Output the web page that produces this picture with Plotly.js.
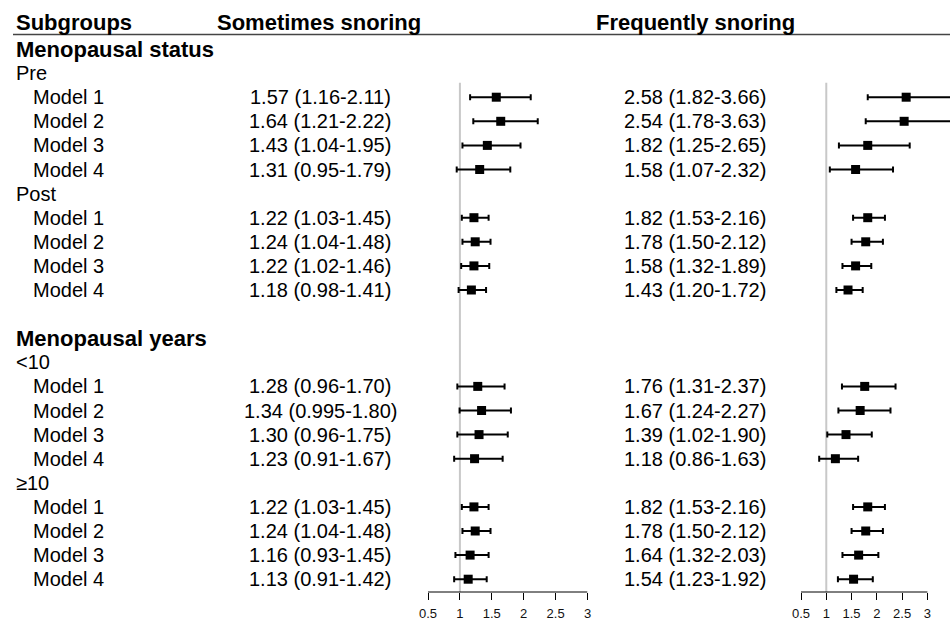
<!DOCTYPE html>
<html>
<head>
<meta charset="utf-8">
<script src="https://cdn.plot.ly/plotly-3.0.1.min.js"></script>
<style>html,body{margin:0;padding:0;background:#fff;}#chart{width:950px;height:622px;}</style>
</head>
<body>
<div id="chart"></div>
<script>
// ---- data ----
const headers = ["Subgroups", "Sometimes snoring", "Frequently snoring"];
const sections = ["Menopausal status", "Menopausal years"];
const groups = [["Pre", "Post"], ["<10", "\u226510"]];
const models = ["Model 1", "Model 2", "Model 3", "Model 4"];
const tickVals = [0.5, 1, 1.5, 2, 2.5, 3];
const tickText = ["0.5", "1", "1.5", "2", "2.5", "3"];

const sometimesOR = [1.57, 1.64, 1.43, 1.31, 1.22, 1.24, 1.22, 1.18, 1.28, 1.34, 1.30, 1.23, 1.22, 1.24, 1.16, 1.13];
const sometimesLo = [1.16, 1.21, 1.04, 0.95, 1.03, 1.04, 1.02, 0.98, 0.96, 0.995, 0.96, 0.91, 1.03, 1.04, 0.93, 0.91];
const sometimesHi = [2.11, 2.22, 1.95, 1.79, 1.45, 1.48, 1.46, 1.41, 1.70, 1.80, 1.75, 1.67, 1.45, 1.48, 1.45, 1.42];
const frequentOR = [2.58, 2.54, 1.82, 1.58, 1.82, 1.78, 1.58, 1.43, 1.76, 1.67, 1.39, 1.18, 1.82, 1.78, 1.64, 1.54];
const frequentLo = [1.82, 1.78, 1.25, 1.07, 1.53, 1.50, 1.32, 1.20, 1.31, 1.24, 1.02, 0.86, 1.53, 1.50, 1.32, 1.23];
const frequentHi = [3.66, 3.63, 2.65, 2.32, 2.16, 2.12, 1.89, 1.72, 2.37, 2.27, 1.90, 1.63, 2.16, 2.12, 2.03, 1.92];

// ---- layout geometry (pixels) ----
const W = 950, H = 622;
const FONT = "Liberation Sans, Arial, Helvetica, sans-serif";
const rowTop = 49, rowStep = 24.1, axisY = 592;
const px = v => v / W;
const py = v => (H - v) / H;

// build rows
const rows = [];
let m = 0;
sections.forEach((s, si) => {
  if (si > 0) rows.push({label: "", kind: "blank"});
  rows.push({label: s, kind: "section"});
  groups[si].forEach(g => {
    rows.push({label: g, kind: "group"});
    models.forEach(md => { rows.push({label: md, kind: "model", idx: m}); m++; });
  });
});

function fmt(v) {
  return Math.abs(v * 100 - Math.round(v * 100)) < 1e-9 ? v.toFixed(2) : String(v);
}
function ciText(or, lo, hi, i) {
  return fmt(or[i]) + " (" + fmt(lo[i]) + "-" + fmt(hi[i]) + ")";
}

const annotations = [];
const yS = [], yF = [];
rows.forEach((r, ri) => {
  if (r.kind === "blank") return;
  if (r.kind === "section") {
    annotations.push({xref: "paper", yref: "y", x: px(14), y: ri, xanchor: "left", yanchor: "middle",
      text: "<b>" + r.label + "</b>", showarrow: false, font: {family: FONT, size: 22, color: "#000"}});
  } else if (r.kind === "group") {
    annotations.push({xref: "paper", yref: "y", x: px(14), y: ri, xanchor: "left", yanchor: "middle",
      text: r.label, showarrow: false, font: {family: FONT, size: 20, color: "#000"}});
  } else {
    annotations.push({xref: "paper", yref: "y", x: px(31), y: ri, xanchor: "left", yanchor: "middle",
      text: r.label, showarrow: false, font: {family: FONT, size: 20, color: "#000"}});
    annotations.push({xref: "paper", yref: "y", x: px(320), y: ri, xanchor: "center", yanchor: "middle",
      text: ciText(sometimesOR, sometimesLo, sometimesHi, r.idx), showarrow: false, font: {family: FONT, size: 20, color: "#000"}});
    annotations.push({xref: "paper", yref: "y", x: px(695), y: ri, xanchor: "center", yanchor: "middle",
      text: ciText(frequentOR, frequentLo, frequentHi, r.idx), showarrow: false, font: {family: FONT, size: 20, color: "#000"}});
    yS.push(ri); yF.push(ri);
  }
});
// headers
const headerRow = (22 - rowTop) / rowStep;
[[14, "left"], [319, "center"], [695, "center"]].forEach((p, i) => {
  annotations.push({xref: "paper", yref: "y", x: px(p[0]), y: headerRow, xanchor: p[1], yanchor: "middle",
    text: "<b>" + headers[i] + "</b>", showarrow: false, font: {family: FONT, size: 22, color: "#000"}});
});

const yBottom = (axisY - rowTop) / rowStep;
const yTopR = -rowTop / rowStep;

const traceS = {
  type: "scatter", mode: "markers", xaxis: "x", yaxis: "y",
  x: sometimesOR, y: yS,
  marker: {symbol: "square", size: 9, color: "#000"},
  error_x: {type: "data", symmetric: false,
    array: sometimesHi.map((h, i) => h - sometimesOR[i]),
    arrayminus: sometimesLo.map((l, i) => sometimesOR[i] - l),
    color: "#000", thickness: 2, width: 3},
  hoverinfo: "skip", showlegend: false
};
const traceF = {
  type: "scatter", mode: "markers", xaxis: "x2", yaxis: "y",
  x: frequentOR, y: yF,
  marker: {symbol: "square", size: 9, color: "#000"},
  error_x: {type: "data", symmetric: false,
    array: frequentHi.map((h, i) => h - frequentOR[i]),
    arrayminus: frequentLo.map((l, i) => frequentOR[i] - l),
    color: "#000", thickness: 2, width: 3},
  hoverinfo: "skip", showlegend: false
};

// left axis: 0.5 at 428px, 3 at 587.5px; right axis: 0.5 at 801px, 50.56 px/unit
const leftL = 428, leftR = 587.5;
const rightL = 801, rightUnit = 50.56;
const axisCommon = {
  showgrid: false, zeroline: false, showline: false,
  ticks: "outside", ticklen: 7, tickwidth: 1, tickcolor: "#000",
  tickvals: tickVals, ticktext: tickText,
  tickfont: {family: FONT, size: 13, color: "#111"},
  ticklabelstandoff: 2,
  anchor: "y", fixedrange: true
};

const layout = {
  width: W, height: H,
  margin: {l: 0, r: 0, t: 0, b: 0},
  paper_bgcolor: "#fff", plot_bgcolor: "rgba(0,0,0,0)",
  showlegend: false,
  xaxis: Object.assign({}, axisCommon, {domain: [px(leftL), px(leftR)], range: [0.5, 3]}),
  xaxis2: Object.assign({}, axisCommon, {domain: [px(rightL), 1], range: [0.5, 0.5 + (W - rightL) / rightUnit]}),
  yaxis: {domain: [py(axisY), 1], range: [yBottom, yTopR], showgrid: false, zeroline: false,
    showline: false, showticklabels: false, ticks: "", fixedrange: true},
  annotations: annotations,
  shapes: [
    {type: "line", xref: "paper", yref: "paper", x0: px(13), x1: 1, y0: py(34.5), y1: py(34.5),
      line: {color: "#444", width: 1.5}},
    {type: "line", xref: "x", yref: "y", x0: 1, x1: 1, y0: 1.4, y1: yBottom, layer: "below",
      line: {color: "#c8c8c8", width: 2}},
    {type: "line", xref: "x2", yref: "y", x0: 1, x1: 1, y0: 1.4, y1: yBottom, layer: "below",
      line: {color: "#c8c8c8", width: 2}},
    {type: "line", xref: "x", yref: "paper", x0: 0.5, x1: 3, y0: py(axisY), y1: py(axisY),
      line: {color: "#000", width: 1}},
    {type: "line", xref: "x2", yref: "paper", x0: 0.5, x1: 3, y0: py(axisY), y1: py(axisY),
      line: {color: "#000", width: 1}}
  ]
};

Plotly.newPlot("chart", [traceS, traceF], layout, {staticPlot: true, displayModeBar: false});
</script>
</body>
</html>
